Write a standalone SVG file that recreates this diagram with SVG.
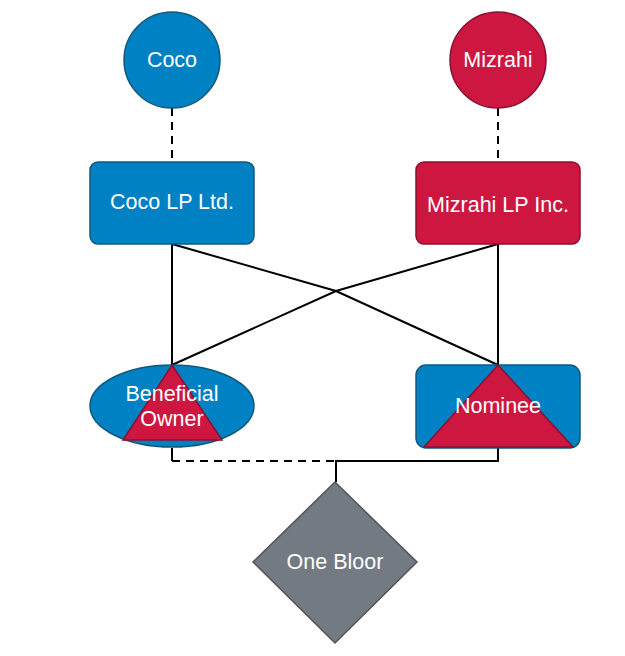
<svg xmlns="http://www.w3.org/2000/svg" width="625" height="656" viewBox="0 0 625 656">
<style>
.blue{fill:#0081C3;stroke:#10597D;stroke-width:1.5}
.red{fill:#CD1640;stroke:#8A1030;stroke-width:1.5}
.gray{fill:#737A82;stroke:#4F545A;stroke-width:1.5}
.t{font-family:"Liberation Sans",Arial,sans-serif;font-size:21.5px;fill:#fff;text-anchor:middle;dominant-baseline:central}
.ln{fill:none;stroke:#000;stroke-width:2}
.dash{stroke-dasharray:8,6}
</style>
<rect width="625" height="656" fill="#fff"/>
<g id="connectors">
<path class="ln dash" d="M172,108 V162"/>
<path class="ln dash" d="M498,108 V162"/>
<path class="ln" d="M172,244 V365"/>
<path class="ln" d="M498,244 V365"/>
<path class="ln" d="M172,244 L336,291 L498,365"/>
<path class="ln" d="M498,244 L336,291 L172,365"/>
<path class="ln" d="M172,448 V461"/>
<path class="ln dash" d="M172,461 H336"/>
<path class="ln" d="M498,448 V461 H336 V482"/>
</g>
<g id="coco">
<circle class="blue" cx="172" cy="60" r="48"/>
<text class="t" x="172" y="60">Coco</text>
</g>
<g id="mizrahi">
<circle class="red" cx="498" cy="60" r="48"/>
<text class="t" x="498" y="60">Mizrahi</text>
</g>
<g id="cocolp">
<rect class="blue" x="90" y="162" width="164" height="82" rx="8"/>
<text class="t" x="172" y="202">Coco LP Ltd.</text>
</g>
<g id="mizrahilp">
<rect class="red" x="416" y="162" width="164" height="82" rx="8"/>
<text class="t" x="498" y="205">Mizrahi LP Inc.</text>
</g>
<g id="beneficial">
<ellipse class="blue" cx="172" cy="406" rx="82" ry="41"/>
<polygon class="red" points="172,365 222,440 123,440"/>
<text class="t" x="172" y="394">Beneficial</text>
<text class="t" x="172" y="419">Owner</text>
</g>
<g id="nominee">
<rect class="blue" x="416" y="365" width="164" height="83" rx="10"/>
<polygon class="red" points="498,365 573,447 424,447"/>
<text class="t" x="498" y="406">Nominee</text>
</g>
<g id="onebloor">
<polygon class="gray" points="335,482 417,562 335,643 253,562"/>
<text class="t" x="335" y="562">One Bloor</text>
</g>
</svg>
